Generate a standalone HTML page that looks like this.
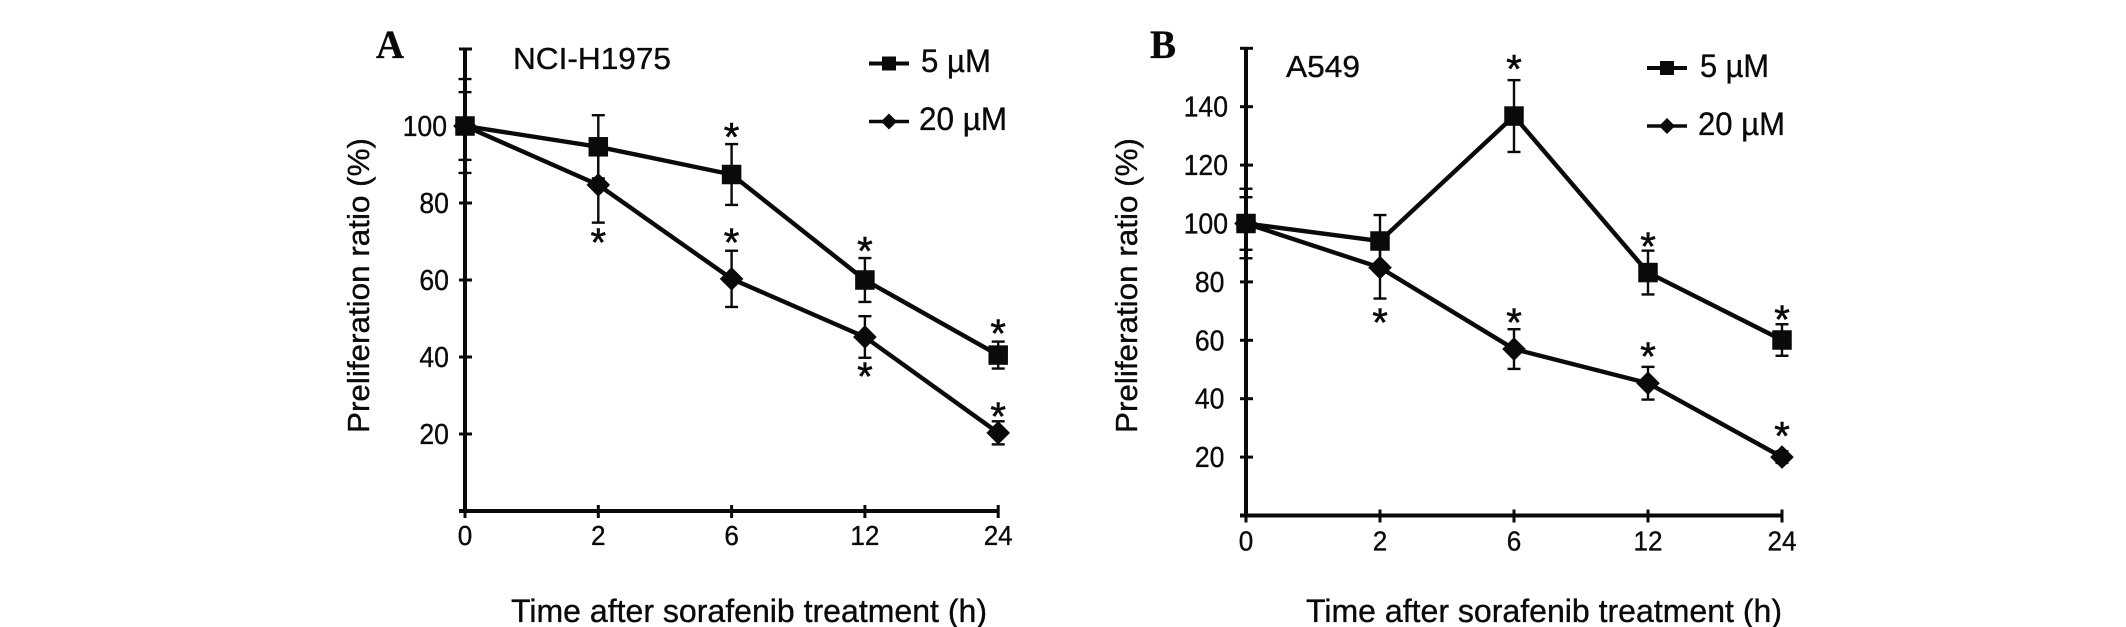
<!DOCTYPE html>
<html lang="en">
<head>
<meta charset="utf-8">
<title>Proliferation ratio after sorafenib treatment</title>
<style>
html,body{margin:0;padding:0;background:#fff;width:2126px;height:627px;overflow:hidden}
svg{display:block}
text{font-family:"Liberation Sans",sans-serif;fill:#0a0a0a;stroke:#0a0a0a;stroke-width:.35px}
.letter{font-family:"Liberation Serif",serif;font-weight:bold;font-size:40px}
</style>
</head>
<body>
<svg id="chart" xmlns="http://www.w3.org/2000/svg" width="2126" height="627" viewBox="0 0 2126 627">
  <rect width="2126" height="627" fill="#fff"/>

  <g>
    <text class="letter" x="376" y="58" textLength="28" lengthAdjust="spacingAndGlyphs">A</text>
    <text x="513" y="69" font-size="31" textLength="158" lengthAdjust="spacingAndGlyphs">NCI-H1975</text>
    <text transform="translate(369,433) rotate(-90)" font-size="31" textLength="295" lengthAdjust="spacingAndGlyphs">Preliferation ratio (%)</text>
    <text x="511" y="622" font-size="32" textLength="476" lengthAdjust="spacingAndGlyphs">Time after sorafenib treatment (h)</text>
    <text x="921" y="72" font-size="32" textLength="70" lengthAdjust="spacingAndGlyphs">5 µM</text>
    <text x="919" y="130" font-size="32" textLength="88" lengthAdjust="spacingAndGlyphs">20 µM</text>
  </g>

  <g>
    <text class="letter" x="1150" y="58" textLength="26" lengthAdjust="spacingAndGlyphs">B</text>
    <text x="1286" y="77" font-size="31" textLength="74" lengthAdjust="spacingAndGlyphs">A549</text>
    <text transform="translate(1137,433) rotate(-90)" font-size="31" textLength="295" lengthAdjust="spacingAndGlyphs">Preliferation ratio (%)</text>
    <text x="1306" y="622" font-size="32" textLength="476" lengthAdjust="spacingAndGlyphs">Time after sorafenib treatment (h)</text>
    <text x="1700" y="77" font-size="32" textLength="69" lengthAdjust="spacingAndGlyphs">5 µM</text>
    <text x="1698" y="135" font-size="32" textLength="87" lengthAdjust="spacingAndGlyphs">20 µM</text>
  </g>
</svg>

<script>
// Shared categories
const timeLabels = ['0', '2', '6', '12', '24'];

// Panel A (NCI-H1975) values
const yTicksA = [20, 40, 60, 80, 100];
const maxA = 120;
const fiveA = [100, 94.6, 87.4, 60, 40.5];
const fiveErrA = [8.8, 8.2, 7.9, 5.7, 3.5];
const fiveStarsA = [null, null, 99.4, 69.7, 48.3];
const twentyA = [100, 84.7, 60.3, 45.2, 20.3];
const twentyErrA = [12.2, 9.8, 7.3, 5.4, 3];
const twentyStarsA = [null, 72, 72, 37.2, 26.7];

// Panel B (A549) values
const yTicksB = [20, 40, 60, 80, 100, 120, 140];
const maxB = 160;
const fiveB = [100, 94, 136.8, 83.2, 60.1];
const fiveErrB = [9, 8.9, 12.3, 7.5, 5.4];
const fiveStarsB = [null, null, 155.8, 95.1, 70.1];
const twentyB = [100, 84.9, 57, 45.3, 20];
const twentyErrB = [11.9, 10.6, 6.8, 5.6, 2];
const twentyStarsB = [null, 69, 69, 57.3, 30.1];

const svg = document.getElementById('chart');
const NS = 'http://www.w3.org/2000/svg';
const INK = '#0a0a0a';

function make(tag, attrs, parent) {
  const el = document.createElementNS(NS, tag);
  for (const k in attrs) el.setAttribute(k, attrs[k]);
  parent.appendChild(el);
  return el;
}

function drawSquare(g, cx, cy, size, name) {
  const el = make('rect', {x: cx - size / 2, y: cy - size / 2, width: size, height: size, fill: INK}, g);
  
  
}

function drawDiamond(g, cx, cy, r, name) {
  const el = make('polygon', {points: [cx, cy - r, cx + r, cy, cx, cy + r, cx - r, cy].join(' '), fill: INK}, g);
  
  
}

function drawPanel(p) {
  const g = make('g', {}, svg);
  
  

  const x = i => p.x0 + i * p.step;
  const y = v => p.y0 - v * p.unit;

  // axes
  const yAxis = make('line', {x1: p.x0, x2: p.x0, y1: y(p.max), y2: y(0), stroke: INK, 'stroke-width': 4}, g);
  
  
  const xAxis = make('line', {x1: p.x0 - 6, x2: x(timeLabels.length - 1), y1: p.y0, y2: p.y0, stroke: INK, 'stroke-width': 4}, g);
  
  
  const topTick = make('line', {x1: p.x0 - 6, x2: p.x0 + 7, y1: y(p.max), y2: y(p.max), stroke: INK, 'stroke-width': 3}, g);
  
  

  // y ticks and labels
  p.yTicks.forEach(v => {
    const t = make('line', {x1: p.x0 - 6, x2: p.x0 + 7, y1: y(v), y2: y(v), stroke: INK, 'stroke-width': 3}, g);
    
    
    const lx = v >= 100 ? p.yLabelX3 : p.yLabelX2;
    const digits = String(v).length;
    const l = make('text', {x: lx, y: y(v) + 10, 'font-size': 29, 'text-anchor': 'end', textLength: digits * 14.8, lengthAdjust: 'spacingAndGlyphs'}, g);
    l.textContent = String(v);
    
    
  });

  // x ticks and labels
  timeLabels.forEach((lab, i) => {
    const t = make('line', {x1: x(i), x2: x(i), y1: p.y0 - 6, y2: p.y0 + 7, stroke: INK, 'stroke-width': 3}, g);
    
    
    const l = make('text', {x: x(i), y: p.xLabelY, 'font-size': 28, 'text-anchor': 'middle', textLength: lab.length * 14.5, lengthAdjust: 'spacingAndGlyphs'}, g);
    l.textContent = lab;
    
    
  });

  // series
  p.series.forEach(s => {
    const sg = make('g', {}, g);
    
    

    const line = make('polyline', {
      points: s.values.map((v, i) => x(i) + ',' + y(v)).join(' '),
      fill: 'none', stroke: INK, 'stroke-width': 4.4, 'stroke-linejoin': 'round'
    }, sg);
    
    

    s.values.forEach((v, i) => {
      const hi = y(v + s.errs[i]);
      const lo = y(v - s.errs[i]);
      const stem = make('line', {x1: x(i), x2: x(i), y1: hi, y2: lo, stroke: INK, 'stroke-width': 2.4}, sg);
      
      
      [hi, lo].forEach(cy => {
        const cap = make('line', {x1: x(i) - 6.5, x2: x(i) + 6.5, y1: cy, y2: cy, stroke: INK, 'stroke-width': 2.4}, sg);
        
        
      });
    });

    s.values.forEach((v, i) => {
      const name = p.id + '-point-' + s.key + '-' + timeLabels[i];
      if (s.shape === 'square') drawSquare(sg, x(i), y(v), 19.5, name);
      else drawDiamond(sg, x(i), y(v), 11.8, name);
    });

    s.stars.forEach((v, i) => {
      if (v === null) return;
      const st = make('text', {x: x(i), y: y(v) + 22, 'font-size': 40, 'text-anchor': 'middle', style: 'stroke-width:.6px'}, sg);
      st.textContent = '*';
      
      
    });
  });

  // legend glyphs
  const leg5 = make('line', {x1: p.legX, x2: p.legX + 40, y1: p.legY5, y2: p.legY5, stroke: INK, 'stroke-width': 4}, g);
  
  
  drawSquare(g, p.legX + 20, p.legY5, 14, p.id + '-legend-marker-5um');
  const leg20 = make('line', {x1: p.legX, x2: p.legX + 40, y1: p.legY20, y2: p.legY20, stroke: INK, 'stroke-width': 3.4}, g);
  
  
  drawDiamond(g, p.legX + 20, p.legY20, 8, p.id + '-legend-marker-20um');
}

drawPanel({
  id: 'panel-a', x0: 465, step: 133.3, y0: 511, unit: 3.85, max: maxA, yTicks: yTicksA,
  yLabelX3: 447, yLabelX2: 449, xLabelY: 545, legX: 869, legY5: 63.5, legY20: 121.5,
  series: [
    {key: '20um', shape: 'diamond', values: twentyA, errs: twentyErrA, stars: twentyStarsA},
    {key: '5um', shape: 'square', values: fiveA, errs: fiveErrA, stars: fiveStarsA}
  ]
});

drawPanel({
  id: 'panel-b', x0: 1246, step: 134, y0: 515.5, unit: 2.92, max: maxB, yTicks: yTicksB,
  yLabelX3: 1228, yLabelX2: 1224.5, xLabelY: 550.5, legX: 1647, legY5: 68, legY20: 126,
  series: [
    {key: '20um', shape: 'diamond', values: twentyB, errs: twentyErrB, stars: twentyStarsB},
    {key: '5um', shape: 'square', values: fiveB, errs: fiveErrB, stars: fiveStarsB}
  ]
});
</script>
</body>
</html>
